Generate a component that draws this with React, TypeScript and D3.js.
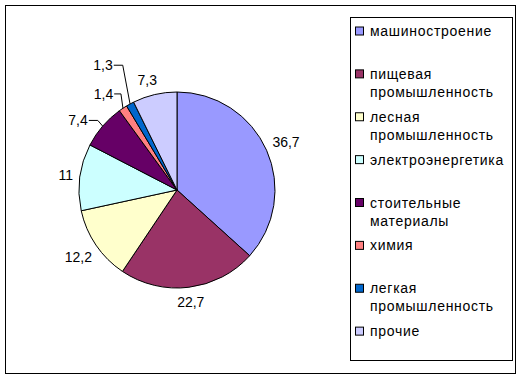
import React from 'react';
import * as d3 from 'd3';

const categories = [
  'машиностроение',
  'пищевая промышленность',
  'лесная промышленность',
  'электроэнергетика',
  'стоительные материалы',
  'химия',
  'легкая промышленность',
  'прочие',
];
const values = [36.7, 22.7, 12.2, 11, 7.4, 1.4, 1.3, 7.3];
const colors = ['#9999FF', '#993366', '#FFFFCC', '#CCFFFF', '#660066', '#FF8080', '#0066CC', '#CCCCFF'];
// manual label displacement (px) for labels dragged away from their slice
const labelNudge: [number, number][] = [[0, 0], [0, 0], [0, 0], [0, 0], [-11, 6], [-10, 0], [-19, -24], [-4, 0]];

const W = 523, H = 380;
const FONT_FAMILY = 'Arial, "Liberation Sans", sans-serif';
const FS = 14;
const LS = 0.7;
const cx = 177, cy = 190, r = 98;
const legend = { x: 350.5, y: 17.5, w: 162, h: 343 };

let ctx: CanvasRenderingContext2D | null = null;
function measure(t: string, ls = 0) {
  if (!ctx) ctx = document.createElement('canvas').getContext('2d');
  ctx!.font = `${FS}px ${FONT_FAMILY}`;
  return ctx!.measureText(t).width + ls * t.length;
}
function wrap(t: string, maxW: number) {
  const words = t.split(' ');
  const lines: string[] = [];
  let cur = '';
  for (const w of words) {
    const cand = cur ? cur + ' ' + w : w;
    if (cur && measure(cand, LS) > maxW) { lines.push(cur); cur = w; } else cur = cand;
  }
  if (cur) lines.push(cur);
  return lines;
}
const fmt = (v: number) => String(v).replace('.', ',');

export default function App() {
  const pie = d3.pie<number>().sort(null).value(d => d);
  const arcs = pie(values);
  const arc = d3.arc<d3.PieArcDatum<number>>().innerRadius(0).outerRadius(r);
  const band = d3.scaleBand<number>().domain(d3.range(values.length)).range([legend.y, legend.y + legend.h]);

  return (
    <svg width={W} height={H} style={{ position: 'absolute', left: 0, top: 0, background: '#fff' }}
      fontFamily={FONT_FAMILY} fontSize={FS}>
      <rect x={5.5} y={5.5} width={510} height={368} fill="#fff" stroke="#000" strokeWidth={1} />
      <g transform={`translate(${cx},${cy})`}>
        {arcs.map((a, i) => (
          <path key={i} d={arc(a)!} fill={colors[i]} stroke="#000" strokeWidth={1} />
        ))}
      </g>
      {arcs.map((a, i) => {
        const mid = (a.startAngle + a.endAngle) / 2;
        const s = Math.sin(mid), c = Math.cos(mid);
        const txt = fmt(values[i]);
        const w = measure(txt);
        const h = FS;
        const R = r + 6 + Math.abs(s) * w / 2 + Math.abs(c) * h / 2;
        const lx = cx + s * R + labelNudge[i][0];
        const ly = cy - c * R + labelNudge[i][1];
        const moved = Math.abs(labelNudge[i][0]) > 5 || Math.abs(labelNudge[i][1]) > 5;
        const ax = cx + s * r, ay = cy - c * r;
        const right = lx + w / 2 + 1;
        const elbow = Math.min(right + 9, ax - 2);
        return (
          <g key={i}>
            <text x={lx} y={ly + 5} textAnchor="middle" fill="#000">{txt}</text>
            {moved && (
              <polyline points={`${right},${ly} ${elbow},${ly} ${ax},${ay}`} fill="none" stroke="#000" strokeWidth={1} />
            )}
          </g>
        );
      })}
      <rect x={legend.x} y={legend.y} width={legend.w} height={legend.h} fill="#fff" stroke="#000" strokeWidth={1} />
      {categories.map((name, i) => {
        const top = band(i)!;
        const lines = wrap(name, legend.x + legend.w - 371);
        return (
          <g key={i}>
            <rect x={355.5} y={top + 9.5} width={8} height={8} fill={colors[i]} stroke="#000" strokeWidth={1} />
            {lines.map((l, j) => (
              <text key={j} x={370} y={top + 18.5 + j * 18} fill="#000" letterSpacing={LS}>{l}</text>
            ))}
          </g>
        );
      })}
    </svg>
  );
}
